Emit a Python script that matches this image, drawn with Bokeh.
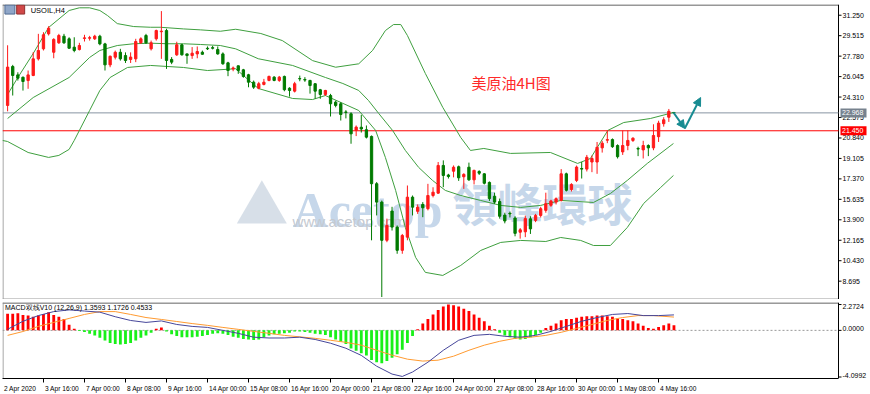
from bokeh.plotting import figure
from bokeh.layouts import column
from bokeh.models import (ColumnDataSource, Range1d, FixedTicker, Label, Arrow, NormalHead)
from bokeh.core.properties import value
from bokeh.embed import file_html
from bokeh.resources import INLINE

# ---------------- data ----------------
opens = [23.6, 26.9, 26.19, 25.99, 25.71, 26.14, 27.55, 28.40, 29.67, 28.11,
         28.91, 29.47, 29.25, 28.54, 28.34, 29.28, 29.30, 29.25, 29.47, 28.82,
         27.04, 27.69, 28.11, 27.83, 27.50, 27.55, 28.91, 29.53, 28.40, 29.25,
         29.85, 29.95, 27.50, 27.89, 28.74, 27.97, 27.83, 27.97, 28.11, 28.45,
         28.50, 28.34, 27.97, 27.21, 26.70, 26.96, 26.62, 26.20, 25.57, 25.06,
         25.38, 25.72, 26.00, 25.72, 26.06, 25.06, 24.81, 25.88, 25.80, 25.72,
         25.44, 24.93, 24.53, 24.44, 23.88, 23.74, 23.05, 22.89, 21.48, 21.75,
         21.54, 20.97, 16.96, 15.40, 12.16, 14.64, 13.28, 11.31, 12.43, 15.82,
         14.62, 15.20, 14.84, 15.96, 16.16, 18.51, 17.70, 18.02, 18.40, 17.55,
         18.36, 17.29, 18.00, 17.80, 17.07, 15.90, 15.45, 14.30, 14.45, 14.05,
         12.85, 12.88, 13.98, 13.85, 14.27, 14.70, 15.13, 15.40, 15.55, 17.80,
         16.46, 17.24, 18.25, 18.20, 18.80, 18.80, 20.00, 20.65, 20.70, 20.20,
         19.66, 20.20, 20.63, 19.95, 19.83, 20.20, 20.00, 20.95, 22.05, 22.60,
         23.00]
highs = [28.7, 27.04, 26.41, 26.05, 26.56, 28.11, 29.67, 29.81, 30.32, 29.30,
         29.67, 29.67, 29.38, 29.38, 28.91, 29.59, 29.50, 29.59, 29.59, 28.91,
         27.83, 28.25, 28.40, 28.10, 28.10, 29.25, 29.38, 29.67, 29.10, 30.03,
         31.60, 30.10, 27.70, 29.00, 28.82, 28.00, 28.55, 28.60, 28.25, 28.60,
         28.65, 28.60, 28.10, 27.30, 26.90, 26.98, 26.70, 26.28, 25.71, 25.60,
         25.85, 26.13, 26.08, 26.10, 26.13, 25.14, 25.60, 26.13, 26.00, 25.77,
         25.48, 25.00, 24.92, 24.58, 24.00, 23.88, 23.20, 23.02, 21.90, 22.80,
         21.90, 21.05, 17.10, 15.53, 14.00, 15.00, 13.42, 12.70, 16.81, 15.96,
         15.20, 15.40, 16.95, 16.66, 18.80, 18.94, 17.80, 18.51, 18.50, 17.85,
         18.75, 18.15, 18.10, 17.85, 17.15, 16.20, 15.70, 14.50, 14.60, 14.20,
         13.20, 14.25, 14.20, 14.40, 15.00, 16.20, 15.60, 15.80, 18.20, 17.90,
         17.00, 18.50, 18.80, 19.40, 19.35, 20.50, 20.60, 21.50, 20.80, 20.30,
         21.48, 21.48, 20.90, 20.10, 20.60, 20.30, 22.00, 22.30, 22.60, 23.30,
         23.05]
lows = [23.1, 24.44, 25.71, 24.86, 25.01, 26.08, 27.41, 28.26, 29.53, 27.60,
        28.82, 28.82, 28.40, 28.11, 28.26, 29.02, 29.10, 29.15, 28.70, 26.56,
        26.84, 27.50, 27.40, 27.20, 27.20, 27.27, 28.82, 28.82, 28.26, 29.10,
        27.55, 26.70, 27.10, 27.80, 27.83, 27.13, 27.55, 27.60, 27.90, 28.30,
        28.35, 27.90, 27.05, 26.08, 26.50, 26.28, 25.95, 25.14, 25.00, 24.97,
        25.30, 25.65, 25.65, 25.60, 24.80, 24.35, 24.70, 25.65, 25.60, 24.60,
        24.16, 24.16, 24.40, 22.66, 23.44, 22.32, 22.50, 20.35, 21.00, 21.30,
        20.80, 12.16, 14.27, 7.35, 12.00, 12.99, 11.02, 11.02, 12.16, 14.27,
        14.40, 14.12, 14.70, 15.80, 16.10, 16.67, 17.40, 17.50, 17.20, 16.52,
        17.20, 16.90, 17.70, 16.90, 15.50, 15.25, 14.00, 13.60, 14.10, 12.50,
        12.30, 12.43, 12.70, 13.70, 14.10, 14.50, 15.00, 15.20, 15.45, 16.30,
        16.30, 17.10, 17.40, 18.00, 17.94, 17.80, 19.60, 20.40, 20.00, 19.10,
        19.40, 19.80, 20.50, 19.30, 19.10, 19.30, 19.80, 20.50, 21.80, 22.20,
        22.90]
closes = [26.85, 26.14, 25.91, 25.63, 26.19, 27.55, 28.26, 29.59, 30.15, 29.20,
          29.53, 28.91, 28.45, 28.26, 28.68, 29.33, 29.35, 29.47, 28.82, 27.04,
          27.77, 28.11, 27.55, 27.41, 27.70, 29.02, 29.25, 28.91, 28.91, 29.95,
          29.90, 27.41, 27.27, 28.74, 27.89, 27.83, 28.03, 28.17, 27.94, 28.40,
          28.45, 27.97, 27.13, 26.56, 26.78, 26.56, 26.06, 25.57, 25.15, 25.44,
          25.57, 26.06, 25.72, 26.00, 24.93, 24.87, 25.44, 25.85, 25.75, 25.29,
          24.81, 24.53, 24.87, 23.74, 23.60, 22.83, 23.00, 21.19, 21.76, 21.60,
          20.91, 16.96, 15.40, 12.16, 13.42, 13.28, 11.31, 12.57, 15.82, 14.97,
          14.97, 14.92, 15.96, 16.24, 18.51, 17.66, 17.57, 18.36, 17.46, 17.75,
          17.29, 18.09, 17.85, 17.00, 15.70, 15.40, 14.20, 13.80, 14.40, 12.75,
          13.05, 14.00, 13.13, 14.27, 14.84, 15.27, 15.50, 15.69, 17.80, 16.40,
          16.90, 18.37, 18.20, 19.20, 19.10, 20.05, 20.40, 20.70, 20.10, 19.25,
          20.20, 20.63, 20.82, 19.90, 20.20, 20.00, 21.05, 22.10, 22.38, 23.10,
          22.97]

# Bollinger bands, read at sampled bars (bar index, price)
bb_up_bar = [0, 2, 5, 8, 12, 14, 16, 18, 19.5, 21.4, 24.6, 27.9, 29.8, 34.3, 37.6, 41.5,
             44.5, 49.4, 53.6, 59.5, 64, 68.5, 71.2, 73.7, 75.3, 76.7, 78, 81.5, 84.9,
             88.4, 90.3, 92.9, 98.1, 105.9, 111.2, 113.7, 117.1, 120.2, 125.4, 129.9]
bb_up_val = [24.53, 25.97, 28.01, 30.21, 31.65, 31.88, 31.88, 31.65, 31.22, 30.54, 30.29,
             30.23, 30.23, 30.09, 30.01, 29.89, 30.06, 29.7, 29.1, 27.4, 26.84, 27.13,
             28.26, 29.95, 30.46, 30.46, 29.53, 26.31, 23.43, 20.88, 19.78, 19.95, 19.53,
             19.61, 18.68, 19.1, 21.48, 22.15, 22.49, 23.0]
bb_mid_bar = [0, 5, 12, 16, 18, 21.4, 24.6, 27.9, 31.2, 34.3, 37.6, 41.5, 44.5, 48.9, 55.6,
              62, 65.4, 68.5, 70.4, 72.4, 75.1, 77.6, 80.2, 82.9, 85.4, 88.4, 92.3, 96.2,
              100.1, 104, 107.9, 114.3, 117.6, 120.9, 124.8, 129.9]
bb_mid_val = [22.49, 24.27, 25.97, 27.67, 28.26, 28.68, 28.83, 28.88, 28.83, 28.83, 28.77,
              28.68, 28.40, 27.56, 26.99, 25.97, 25.46, 24.87, 24.02, 22.92, 21.48, 19.78,
              18.34, 17.24, 16.39, 15.96, 15.54, 15.12, 14.95, 15.12, 15.54, 15.37, 16.13,
              17.24, 18.68, 20.37]
bb_low_bar = [-1, 0, 4, 8, 10, 12, 13, 16, 18, 20, 23.4, 27.9, 34.3, 39, 44.5, 48.9, 55.6,
              59.5, 62, 68.5, 71.8, 73.7, 75.7, 77.6, 79.6, 81.5, 84.9, 88.4, 92.3, 96.2,
              100.1, 105, 107.9, 111.8, 114.3, 117.6, 120.9, 124.1, 127.4, 129.9]
bb_low_val = [20.63, 20.54, 19.61, 19.19, 19.36, 19.87, 20.63, 23.17, 24.87, 25.97, 26.82,
              26.99, 26.82, 26.56, 26.71, 25.04, 24.19, 24.10, 24.44, 23.17, 21.48, 19.19,
              16.39, 13.25, 10.71, 9.44, 9.18, 10.03, 11.3, 11.98, 12.15, 12.06, 12.4,
              12.15, 11.72, 11.72, 13.25, 15.29, 16.64, 17.66]

# MACD panel
macd_hist = [1.46, 1.46, 1.5, 1.35, 1.3, 1.2, 1.3, 1.45, 1.6, 1.35, 1.2, 1.0, 0.5, 0.15,
             -0.05, -0.15, -0.3, -0.45, -0.65, -0.9, -1.1, -1.2, -1.25, -1.2, -1.1, -0.9,
             -0.65, -0.45, -0.2,
             0.15, 0.25,
             -0.1, -0.35, -0.5, -0.6, -0.6, -0.6, -0.55, -0.5, -0.4, -0.3, -0.25, -0.3,
             -0.4, -0.55, -0.65, -0.75, -0.8, -0.85, -0.8, -0.6, -0.45, -0.35, -0.3,
             -0.25, -0.2, -0.1,
             -0.1, -0.15, -0.2, -0.3, -0.35, -0.4,
             -0.6, -0.8, -1.0, -1.2, -1.6, -1.8, -2.0, -2.2, -2.6, -2.8, -2.9, -2.7, -2.4,
             -2.1, -1.7, -1.1, -0.5,
             0.1, 0.6, 1.0, 1.4, 1.8, 2.1, 2.27, 2.2, 2.1, 1.9, 1.7, 1.4, 1.1, 0.8, 0.4, 0.1,
             -0.2, -0.45, -0.6, -0.75, -0.8, -0.75, -0.6, -0.4, -0.2,
             0.2, 0.4, 0.6, 0.9, 1.0, 1.0, 1.1, 1.2, 1.25, 1.25, 1.3, 1.3, 1.25, 1.2, 1.05,
             1.0, 0.9, 0.8, 0.6, 0.4, 0.2, 0.15, 0.3, 0.45, 0.6, 0.45]
macd_bar = [0, 3, 6, 9, 12, 15, 18, 21, 24, 27, 30, 33, 36, 39, 42, 45, 48, 51, 54, 57,
            60, 63, 66, 69, 72, 75, 77, 79, 82, 85, 88, 91, 94, 97, 100, 103, 106, 109,
            112, 115, 118, 121, 124, 127, 130]
macd_val = [0.1, 0.8, 1.3, 1.65, 1.8, 1.7, 1.6, 1.2, 0.87, 0.7, 0.83, 0.52, 0.35, 0.26,
            0.0, -0.26, -0.6, -0.67, -0.67, -0.6, -0.8, -1.13, -1.57, -2.2, -3.15, -3.84,
            -4.05, -3.66, -2.8, -1.75, -0.87, -0.44, -0.35, -0.52, -0.6, -0.44, -0.09,
            0.35, 0.8, 1.13, 1.4, 1.48, 1.3, 1.3, 1.36]
signal_bar = [0, 3, 6, 9, 12, 15, 18, 21, 24, 27, 30, 33, 36, 39, 42, 45, 48, 51, 54, 57,
              60, 63, 66, 69, 72, 75, 78, 81, 84, 87, 90, 93, 96, 99, 102, 105, 108, 111,
              114, 117, 120, 123, 126, 130]
signal_val = [-0.44, -0.1, 0.35, 0.7, 1.05, 1.4, 1.65, 1.65, 1.4, 1.13, 0.96, 0.78, 0.6,
              0.44, 0.26, 0.09, -0.09, -0.26, -0.44, -0.57, -0.7, -0.87, -1.05, -1.3,
              -1.75, -2.18, -2.53, -2.7, -2.62, -2.27, -1.75, -1.3, -0.96, -0.7, -0.6,
              -0.44, -0.17, 0.17, 0.52, 0.87, 1.13, 1.3, 1.3, 1.17]

price_ticks = [31.250, 29.515, 27.780, 26.045, 24.310, 22.575, 20.840, 19.105,
               17.370, 15.635, 13.900, 12.165, 10.430, 8.695]
macd_ticks = [2.2724, 0.0, -4.0992]
time_labels = ["2 Apr 2020", "3 Apr 16:00", "7 Apr 00:00", "8 Apr 08:00", "9 Apr 16:00",
               "14 Apr 00:00", "15 Apr 08:00", "16 Apr 16:00", "20 Apr 00:00",
               "21 Apr 08:00", "22 Apr 16:00", "24 Apr 00:00", "27 Apr 08:00",
               "28 Apr 16:00", "30 Apr 00:00", "1 May 08:00", "4 May 16:00"]
time_label_bars = [-1, 7, 15, 23, 31, 39, 47, 55, 63, 71, 79, 87, 95, 103, 111, 119, 127]

last_price = 22.968
level_price = 21.450
arrow_bar = [129.9, 132.1, 135.2]
arrow_price = [23.0, 21.65, 24.27]

# ---------------- geometry / styling ----------------
FONT = "Liberation Sans"
RED = "#ff1a1a"
GREEN = "#007a00"
BAND = "#3f9f3f"
TEAL = "#188c92"

X0 = -0.995            # left edge of the chart (bars)
AXIS_X = 162.1         # bar position of the price-scale line
BAR_PX = 836 / (AXIS_X - X0)
X_END = X0 + 868 / BAR_PX
Y1 = (7.14, 32.16)
Y2 = (-4.23, 2.45)
PPU1 = 295 / (Y1[1] - Y1[0])
PPU2 = 77 / (Y2[1] - Y2[0])

x_range = Range1d(X0, X_END)


def px(n):
    """screen pixels -> bars"""
    return n / BAR_PX


def frame_lines(p, y_lo, y_hi, ppu, top_col, bottom_col):
    p.segment(x0=[X0, X0 + px(0.5)], y0=[y_hi - 0.5 / ppu, y_lo],
              x1=[AXIS_X, X0 + px(0.5)], y1=[y_hi - 0.5 / ppu, y_hi],
              line_color=[top_col, "#8c8c8c"], line_width=1)
    if bottom_col:
        p.segment(x0=[X0], y0=[y_lo + 0.5 / ppu], x1=[AXIS_X], y1=[y_lo + 0.5 / ppu],
                  line_color=bottom_col, line_width=1)
    p.segment(x0=[AXIS_X], y0=[y_lo], x1=[AXIS_X], y1=[y_hi], line_color="#000000",
              line_width=1)


def price_scale(p, ticks, labels, offsets):
    p.segment(x0=[AXIS_X] * len(ticks), y0=ticks, x1=[AXIS_X + px(3)] * len(ticks),
              y1=ticks, line_color="#000000", line_width=1)
    p.text(x=[AXIS_X + px(4)] * len(ticks), y=ticks, text=labels, y_offset=offsets,
           text_font=value(FONT), text_font_size="7px", text_color="#000000",
           text_baseline="middle", text_align="left")


# ---------------- main price panel ----------------
p1 = figure(width=870, height=299, x_range=x_range, y_range=Range1d(*Y1),
            output_backend="svg", toolbar_location=None, x_axis_location=None,
            y_axis_location=None, min_border_left=2, min_border_right=0,
            min_border_top=4, min_border_bottom=0,
            background_fill_color="white", border_fill_color="white",
            outline_line_color=None)
p1.xgrid.visible = False
p1.ygrid.visible = False

# watermark (behind the candles)
p1.scatter(x=[49.6], y=[14.8], marker="triangle", size=50, fill_color="#cdd7e2",
           fill_alpha=0.8, line_color=None, level="underlay")
p1.add_layout(Label(x=55.6, y=14.69, text="Acetop", text_font="Liberation Serif",
                    text_font_size="50px", text_font_style="bold", text_color="#c6d7ea",
                    text_baseline="alphabetic", level="underlay"))
p1.add_layout(Label(x=86.8, y=15.37, text="領峰環球", text_font="Noto Sans CJK TC",
                    text_font_size="45px", text_font_style="bold", text_color="#c6d7ea",
                    text_baseline="middle", level="underlay"))
p1.add_layout(Label(x=55.6, y=13.76, text="www.acetop.com", text_font=FONT,
                    text_font_size="15px", text_color="#c4c9d0", text_baseline="middle",
                    level="underlay"))

frame_lines(p1, Y1[0], Y1[1], PPU1, "#303030", "#9a9a9a")

n = len(closes)
bars = list(range(n))
cols = [RED if c >= o else GREEN for o, c in zip(opens, closes)]
src = ColumnDataSource(dict(
    x=bars, o=opens, h=highs, l=lows, c=closes,
    top=[max(o, c) for o, c in zip(opens, closes)],
    bottom=[min(o, c) for o, c in zip(opens, closes)],
    color=cols))

p1.segment(x0=[X0, X0], y0=[last_price, level_price], x1=[AXIS_X, AXIS_X],
           y1=[last_price, level_price], line_color=["#8794a3", "#ff0000"], line_width=1)

p1.line(bb_up_bar, bb_up_val, line_color=BAND, line_width=1)
p1.line(bb_mid_bar, bb_mid_val, line_color=BAND, line_width=1)
p1.line(bb_low_bar, bb_low_val, line_color=BAND, line_width=1)

p1.segment(x0="x", y0="l", x1="x", y1="h", line_color="color", line_width=1, source=src)
p1.vbar(x="x", top="top", bottom="bottom", width=0.45, fill_color="color",
        line_color="color", line_width=1, source=src)

price_scale(p1, price_ticks, [f"{t:.3f}" for t in price_ticks], [0] * len(price_ticks))

# price tags on the scale
tag_vals = [last_price, level_price]
p1.rect(x=[AXIS_X + px(15)] * 2, y=tag_vals, width=26, height=9, width_units="screen",
        height_units="screen", fill_color=["#77828e", "#ff0000"], line_color=None)
p1.text(x=[AXIS_X + px(3.5)] * 2, y=tag_vals, text=[f"{v:.3f}" for v in tag_vals],
        text_font=value(FONT), text_font_size="7px", text_color="#ffffff",
        text_baseline="middle", text_align="left")

# chart title
p1.rect(x=[0.45, 2.55], y=[31.73, 31.73], width=[10, 8], height=[9, 9],
        width_units="screen", height_units="screen",
        fill_color=["#8fa6c8", "#d04848"], line_color=["#506a90", "#903030"])
p1.add_layout(Label(x=4.5, y=31.65, text="USOIL,H4", text_font=FONT,
                    text_font_size="7.5px", text_color="#000000", text_baseline="middle"))

# annotation
p1.add_layout(Label(x=90.5, y=25.54, text="美原油4H图", text_font="Noto Sans CJK SC",
                    text_font_size="15px", text_color="#ff2a2a", text_baseline="middle"))

for i in range(len(arrow_bar) - 1):
    p1.add_layout(Arrow(x_start=arrow_bar[i], y_start=arrow_price[i],
                        x_end=arrow_bar[i + 1], y_end=arrow_price[i + 1],
                        line_color=TEAL, line_width=2,
                        end=NormalHead(size=8, fill_color=TEAL, line_color=TEAL)))

# ---------------- MACD panel ----------------
p2 = figure(width=870, height=95, x_range=x_range, y_range=Range1d(*Y2),
            output_backend="svg", toolbar_location=None, x_axis_location="below",
            y_axis_location=None, min_border_left=2, min_border_right=0,
            min_border_top=3, min_border_bottom=15,
            background_fill_color="white", border_fill_color="white",
            outline_line_color=None)
p2.xgrid.visible = False
p2.ygrid.visible = False

frame_lines(p2, Y2[0], Y2[1], PPU2, "#303030", None)

hb = list(range(len(macd_hist)))
hsrc = ColumnDataSource(dict(
    x=hb, top=[max(v, 0) for v in macd_hist], bottom=[min(v, 0) for v in macd_hist],
    color=["#ff0000" if v >= 0 else "#19f019" for v in macd_hist]))
p2.segment(x0=[X0], y0=[0], x1=[AXIS_X], y1=[0], line_color="#9a9a9a",
           line_dash="2 2", line_width=1)
p2.vbar(x="x", top="top", bottom="bottom", width=0.55, fill_color="color",
        line_color=None, source=hsrc)
p2.line(signal_bar, signal_val, line_color="#ff9a30", line_width=1)
p2.line(macd_bar, macd_val, line_color="#46469a", line_width=1)

p2.add_layout(Label(x=-0.5, y=2.02, text="MACD双线V10 (12,26,9) 1.3593 1.1726 0.4533",
                    text_font=FONT, text_font_size="7px", text_color="#000000",
                    text_baseline="middle"))

price_scale(p2, macd_ticks, [f"{t:.4f}" for t in macd_ticks], [1.5, -1.5, -1.5])

# time axis: tick marks at the bars, labels starting just right of each tick
CW = {" ": .278, ":": .278, "A": .667, "M": .833, "p": .556, "r": .333, "a": .556, "y": .5}
LBL_SIZE = 6.6


def text_w(s, size=LBL_SIZE):
    return sum(CW.get(ch, .556) for ch in s) * size


label_pos = [round(b + px(text_w(t) / 2 + 1.5), 3)
             for b, t in zip(time_label_bars, time_labels)]
xa = p2.xaxis[0]
xa.ticker = FixedTicker(ticks=label_pos, minor_ticks=time_label_bars)
xa.major_label_overrides = {pos: t for pos, t in zip(label_pos, time_labels)}
xa.bounds = (X0, AXIS_X)
xa.major_tick_out = 0
xa.major_tick_in = 0
xa.major_tick_line_color = None
xa.minor_tick_out = 4
xa.minor_tick_in = 0
xa.minor_tick_line_color = "#000000"
xa.axis_line_color = "#000000"
xa.major_label_standoff = 2
xa.major_label_text_font = FONT
xa.major_label_text_font_size = f"{LBL_SIZE}px"
xa.major_label_text_color = "#000000"

layout = column(p1, p2, spacing=0)
open("out.html", "w").write(file_html(layout, INLINE))
